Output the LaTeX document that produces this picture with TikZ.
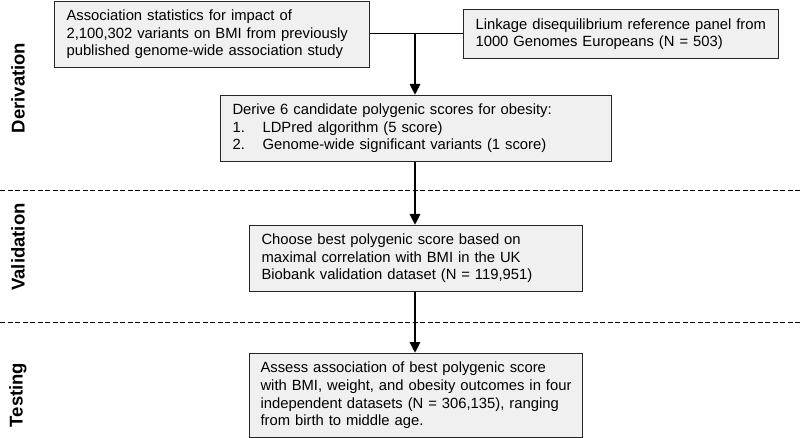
\documentclass[tikz,border=0pt]{standalone}
\usepackage{fontspec}
\setmainfont{Liberation Sans}
\usetikzlibrary{arrows.meta}
\newcommand{\boxfont}{\fontsize{14.8}{17.6}\selectfont}
\newcommand{\itemno}[1]{\makebox[30pt][l]{#1}}

\begin{document}
\begin{tikzpicture}[x=1pt,y=-1pt,
  stagebox/.style={draw=black!85,line width=1.1pt,fill=black!6,anchor=north west,
    align=left,inner xsep=12pt,inner ysep=0pt,font=\boxfont},
  phaselabel/.style={rotate=90,font=\fontsize{18.5}{20}\selectfont\bfseries},
  flowarrow/.style={line width=2.8pt,-{Triangle[length=11pt,width=10pt]}},
  divider/.style={line width=1pt,dash pattern=on 5pt off 2.5pt}]
\useasboundingbox (0,0) rectangle (800,438);
% phase dividers
\draw[divider] (0,191)--(800,191);
\draw[divider] (0,322)--(800,322);
% phase names
\node[phaselabel] (lblDeriv) at (18,88) {Derivation};
\node[phaselabel] (lblValid) at (18,247) {Validation};
\node[phaselabel] (lblTest) at (18,395) {Testing};
% inputs
\node[stagebox,text width=291pt,minimum height=66pt] (gwas) at (54,1)
  {Association statistics for impact of\\2,100,302 variants on BMI from previously\\published genome-wide association study};
\node[stagebox,text width=291pt,minimum height=49pt] (ldpanel) at (463,9)
  {Linkage disequilibrium reference panel from\\1000 Genomes Europeans (N = 503)};
\coordinate (join) at (415,33.5);
% derivation, validation, testing
\node[stagebox,text width=367pt,minimum height=66pt] (derive) at (220,95)
  {Derive 6 candidate polygenic scores for obesity:\\\itemno{1.}LDPred algorithm (5 score)\\\itemno{2.}Genome-wide significant variants (1 score)};
\node[stagebox,text width=309pt,minimum height=66pt] (choose) at (249,225)
  {Choose best polygenic score based on\\maximal correlation with BMI in the UK\\Biobank validation dataset (N = 119,951)};
\node[stagebox,text width=315pt,inner xsep=9pt,minimum height=84pt] (assess) at (249,353)
  {\hspace*{2pt}Assess association of best polygenic score\\\hspace*{2pt}with BMI, weight, and obesity outcomes in four\\\hspace*{2pt}independent datasets (N = 306,135), ranging\\\hspace*{2pt}from birth to middle age.};
\draw[line width=1.1pt] (gwas.east|-join)--(ldpanel.west|-join);
\draw[flowarrow] (join)--(join|-derive.north);
\draw[flowarrow] (derive.south-|join)--(join|-choose.north);
\draw[flowarrow] (choose.south-|join)--(join|-assess.north);
\end{tikzpicture}
\end{document}
